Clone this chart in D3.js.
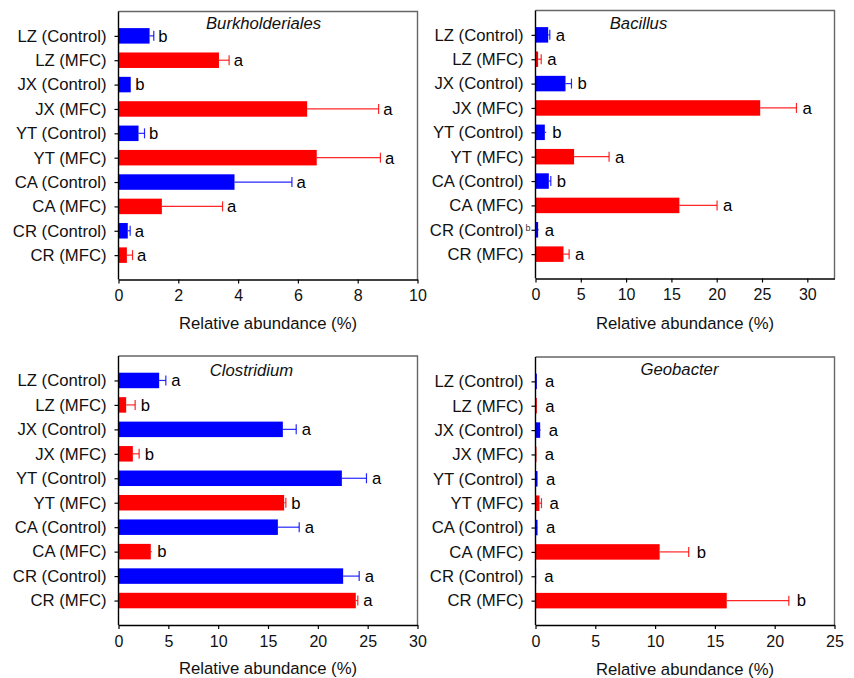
<!DOCTYPE html>
<html>
<head>
<meta charset="utf-8">
<script src="https://cdn.jsdelivr.net/npm/d3@7"></script>
<style>
  html, body { margin: 0; padding: 0; background: #fff; }
  svg { display: block; font-family: Arial, "Liberation Sans", Helvetica, sans-serif; }
</style>
</head>
<body>
<svg id="chart" width="854" height="678"></svg>
<script>
// Sample groups, top to bottom
const groups = ["LZ (Control)", "LZ (MFC)", "JX (Control)", "JX (MFC)", "YT (Control)",
                "YT (MFC)", "CA (Control)", "CA (MFC)", "CR (Control)", "CR (MFC)"];
const treatment = ["Control", "MFC", "Control", "MFC", "Control", "MFC", "Control", "MFC", "Control", "MFC"];

// Relative abundance (%) means, standard errors and significance letters
const burkValues = [1.04, 3.36, 0.41, 6.31, 0.67, 6.63, 3.88, 1.45, 0.31, 0.28];
const burkErrors = [0.14, 0.34, 0.00, 2.39, 0.20, 2.13, 1.92, 2.03, 0.08, 0.19];
const burkLetters = ["b", "a", "b", "a", "b", "a", "a", "a", "a", "a"];

const baciValues = [1.40, 0.29, 3.31, 24.8, 1.03, 4.26, 1.47, 15.88, 0.29, 3.09];
const baciErrors = [0.18, 0.34, 0.66, 4.0, 0.15, 3.86, 0.22, 4.16, 0.08, 0.62];
const baciLetters = ["a", "a", "b", "a", "b", "a", "b", "a", "a", "a"];

const closValues = [4.08, 0.77, 16.49, 1.44, 22.41, 16.62, 15.99, 3.24, 22.54, 23.81];
const closErrors = [0.67, 0.90, 1.34, 0.63, 2.47, 0.17, 2.14, 0.10, 1.61, 0.20];
const closLetters = ["a", "b", "a", "b", "a", "b", "a", "b", "a", "a"];

const geobValues = [0.11, 0.11, 0.39, 0.08, 0.17, 0.33, 0.17, 10.38, 0.05, 15.99];
const geobErrors = [0.02, 0.03, 0.05, 0.02, 0.03, 0.17, 0.03, 2.43, 0.01, 5.19];
const geobLetters = ["a", "a", "a", "a", "a", "a", "a", "b", "a", "b"];

// Axis ticks
const burkTicks = [0, 2, 4, 6, 8, 10];
const baciTicks = [0, 5, 10, 15, 20, 25, 30];
const closTicks = [0, 5, 10, 15, 20, 25, 30];
const geobTicks = [0, 5, 10, 15, 20, 25];

const taxa = ["Burkholderiales", "Bacillus", "Clostridium", "Geobacter"];
const axisTitle = "Relative abundance (%)";

const colorOf = { Control: "#0000ff", MFC: "#ff0000" };

// Panel layout (pixels)
const panels = [
  { title: taxa[0], values: burkValues, errors: burkErrors, letters: burkLetters, ticks: burkTicks, max: 10,
    left: 118.5, right: 417.5, top: 11.5, bottom: 279.5, titleDx: 145, titleDy: 17, labelY: 329, letterGap: 4.5 },
  { title: taxa[1], values: baciValues, errors: baciErrors, letters: baciLetters, ticks: baciTicks, max: 33,
    left: 535.5, right: 834.5, top: 10.5, bottom: 278.5, titleDx: 103, titleDy: 18, labelY: 328.5, letterGap: 6 },
  { title: taxa[2], values: closValues, errors: closErrors, letters: closLetters, ticks: closTicks, max: 30,
    left: 118.5, right: 417.5, top: 356, bottom: 625, titleDx: 133, titleDy: 20, labelY: 674, letterGap: 5.5 },
  { title: taxa[3], values: geobValues, errors: geobErrors, letters: geobLetters, ticks: geobTicks, max: 25,
    left: 535.5, right: 834.5, top: 357, bottom: 625, titleDx: 144, titleDy: 17.5, labelY: 675, letterGap: 8 }
];

const svg = d3.select("#chart");
const barH = 15.5;
const fontLabel = 16.7;

panels.forEach((p, pi) => {
  const x = d3.scaleLinear().domain([0, p.max]).range([p.left, p.right]);
  const y = d3.scalePoint().domain(groups).range([p.top, p.bottom]).padding(1);
  const g = svg.append("g");

  const rows = groups.map((name, i) => ({
    name, value: p.values[i], err: p.errors[i], letter: p.letters[i], color: colorOf[treatment[i]]
  }));

  // frame: top and right edges
  g.append("path")
    .attr("d", `M${p.left},${p.top}H${p.right}V${p.bottom}`)
    .attr("fill", "none").attr("stroke", "#666").attr("stroke-width", 1.4);

  // bars
  g.selectAll("rect.bar").data(rows).join("rect")
    .attr("class", "bar")
    .attr("x", x(0))
    .attr("y", d => y(d.name) - barH / 2)
    .attr("width", d => Math.max(0, x(d.value) - x(0)))
    .attr("height", barH)
    .attr("fill", d => d.color);

  // error bars (one-sided, with end cap)
  const eb = g.selectAll("g.err").data(rows.filter(d => d.err > 0)).join("g").attr("class", "err")
    .attr("stroke", d => d.color)
    .attr("stroke-width", 1.2)
    .attr("stroke-opacity", 0.85);
  eb.append("line")
    .attr("x1", d => x(d.value))
    .attr("x2", d => x(d.value + d.err))
    .attr("y1", d => y(d.name)).attr("y2", d => y(d.name));
  eb.filter(d => x(d.value + d.err) - x(d.value) > 1.5)
    .append("line")
    .attr("x1", d => x(d.value + d.err))
    .attr("x2", d => x(d.value + d.err))
    .attr("y1", d => y(d.name) - 5).attr("y2", d => y(d.name) + 5);

  // significance letters
  g.selectAll("text.sig").data(rows).join("text")
    .attr("class", "sig")
    .attr("x", d => x(d.value + d.err) + p.letterGap)
    .attr("y", d => y(d.name))
    .attr("dy", "0.35em")
    .attr("font-size", fontLabel)
    .attr("fill", "#000")
    .text(d => d.letter);

  // axes
  const ya = g.append("g").attr("transform", `translate(${p.left},0)`)
    .call(d3.axisLeft(y).tickSize(4).tickSizeOuter(0).tickPadding(8));
  ya.select(".domain").attr("d", `M0,${p.top}V${p.bottom}`).attr("stroke", "#000").attr("stroke-width", 1.4);
  ya.selectAll("line").attr("stroke", "#000").attr("stroke-width", 1.2);
  ya.selectAll("text").attr("font-size", fontLabel).attr("font-family", null).attr("fill", "#111");

  const xa = g.append("g").attr("transform", `translate(0,${p.bottom})`)
    .call(d3.axisBottom(x).tickValues(p.ticks).tickFormat(d3.format("d")).tickSize(4).tickSizeOuter(0).tickPadding(6.5));
  xa.select(".domain").attr("stroke", "#000").attr("stroke-width", 1.4);
  xa.selectAll("line").attr("stroke", "#000").attr("stroke-width", 1.2);
  xa.selectAll("text").attr("font-size", 16).attr("font-family", null).attr("fill", "#111");

  // panel title
  g.append("text")
    .attr("x", p.left + p.titleDx)
    .attr("y", p.top + p.titleDy)
    .attr("text-anchor", "middle")
    .attr("font-style", "italic")
    .attr("font-size", fontLabel)
    .attr("fill", "#111")
    .text(p.title);

  // x axis title
  g.append("text")
    .attr("x", (p.left + p.right) / 2)
    .attr("y", p.labelY)
    .attr("text-anchor", "middle")
    .attr("font-size", fontLabel)
    .attr("fill", "#111")
    .text(axisTitle);

  // small stray letter beside the CR (Control) label in the Bacillus panel
  if (pi === 1) {
    g.append("text")
      .attr("x", p.left - 10)
      .attr("y", y(groups[8]))
      .attr("dy", "0.1em")
      .attr("font-size", 9)
      .attr("fill", "#333")
      .text("b");
  }
});
</script>
</body>
</html>
